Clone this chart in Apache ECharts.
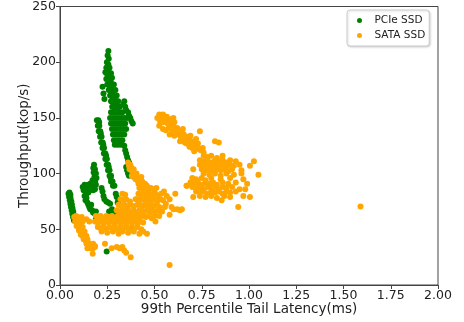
<!DOCTYPE html>
<html>
<head>
<meta charset="utf-8">
<script src="https://cdn.jsdelivr.net/npm/echarts@6/dist/echarts.min.js"></script>
<style>
  html, body { margin: 0; padding: 0; background: #fff; }
  #main { width: 464px; height: 322px; }
</style>
</head>
<body>
<div id="main"></div>
<script>
// latency (ms), throughput (kop/s)
var seriesNames = ['PCIe SSD', 'SATA SSD']
var seriesColors = ['#008000', '#ffa500']
var xTicks = [0, 0.25, 0.5, 0.75, 1.0, 1.25, 1.5, 1.75, 2.0]
var yTicks = [0, 50, 100, 150, 200, 250]

var pcie = [
  // left strand
  [0.045,82],[0.05,83],[0.055,81],[0.048,79],[0.056,78],[0.052,76],[0.06,75],[0.055,73],[0.063,72],[0.058,70],
  [0.066,69],[0.062,67],[0.07,66],[0.065,64],[0.073,63],[0.069,61],[0.078,60],[0.074,58],[0.085,57],
  // second strand
  [0.18,108],[0.176,105],[0.185,104],[0.178,101],[0.19,100],[0.182,97],[0.193,96],[0.186,93],[0.172,94],
  [0.12,88],[0.13,90],[0.14,89],[0.15,90],[0.16,91],[0.17,90],[0.18,89],[0.19,90],[0.125,85],[0.135,84],
  [0.145,86],[0.155,87],[0.165,86],[0.175,85],[0.185,86],[0.14,82],[0.15,83],
  [0.13,80],[0.14,78],[0.135,76],[0.145,74],[0.15,72],[0.155,70],[0.16,68],[0.17,67],[0.175,65],[0.185,64],[0.19,66],[0.165,72],
  // diagonal strand
  [0.195,148],[0.203,148],[0.2,143],[0.208,143],[0.205,138],[0.213,138],[0.212,133],[0.22,133],[0.218,128],[0.226,128],
  [0.225,123],[0.233,123],[0.232,118],[0.24,118],[0.24,113],[0.248,113],[0.247,108],[0.255,108],[0.254,103],[0.262,103],
  [0.262,98],[0.27,98],[0.27,93],[0.278,93],[0.28,89],[0.288,89],
  [0.207,146],[0.216,136],[0.229,126],[0.244,116],[0.258,106],[0.268,96],
  [0.22,87],[0.225,84],[0.23,80],[0.235,77],[0.245,75],[0.255,74],[0.265,73],
  [0.26,66],[0.27,64],[0.28,63],[0.29,65],[0.3,62],[0.275,68],[0.19,60],[0.2,58],[0.247,30],
  [0.295,82],[0.3,79],[0.31,76],[0.305,74],
  // tall strand
  [0.256,210],[0.252,206],[0.258,203],[0.248,200],[0.256,198],[0.245,195],[0.255,193],[0.262,195],[0.24,191],[0.25,189],
  [0.26,188],[0.27,190],[0.245,185],[0.258,184],[0.268,183],[0.275,186],[0.25,180],[0.262,179],[0.274,178],[0.285,180],
  [0.258,175],[0.27,174],[0.282,173],[0.293,175],[0.265,170],[0.277,169],[0.29,168],[0.3,170],[0.27,165],[0.283,164],
  [0.296,163],[0.308,165],[0.276,160],[0.29,159],[0.303,158],[0.316,160],[0.225,178],[0.23,172],[0.235,167],
  [0.27,155],[0.285,155],[0.3,155],[0.315,155],[0.33,155],
  [0.265,150],[0.28,150],[0.295,150],[0.31,150],[0.325,150],[0.34,150],
  [0.27,145],[0.285,145],[0.3,145],[0.315,145],[0.33,145],[0.345,145],
  [0.275,140],[0.29,140],[0.305,140],[0.32,140],[0.335,140],[0.35,140],
  [0.28,135],[0.295,135],[0.31,135],[0.325,135],[0.34,135],
  [0.285,130],[0.3,130],[0.315,130],[0.33,130],
  [0.29,126],[0.305,126],[0.32,126],
  [0.335,162],[0.345,160],[0.35,157],[0.36,155],[0.365,152],[0.372,150],[0.378,147],[0.385,145],[0.34,165],[0.355,150],
  [0.34,125],[0.345,121],[0.35,118],[0.355,115],[0.36,112],[0.365,110],
  [0.35,106],[0.355,103],[0.36,100],[0.365,98]
]

var sata = [
  // left curve
  [0.075,61],[0.085,62],[0.095,61],[0.105,60],[0.115,61],[0.08,57],[0.09,58],[0.1,57],[0.11,56],[0.12,57],
  [0.088,53],[0.098,53],[0.108,52],[0.12,52],[0.1,49],[0.11,48],[0.12,49],[0.13,48],[0.11,45],[0.12,44],
  [0.13,45],[0.14,44],[0.125,41],[0.135,40],[0.145,41],[0.15,38],[0.14,37],[0.155,35],[0.165,36],[0.175,37],
  [0.16,33],[0.175,33],[0.185,35],[0.145,33],[0.14,59],[0.155,57],
  // low band
  [0.19,62],[0.2,61],[0.215,62],[0.23,60],[0.245,62],[0.26,61],[0.275,62],[0.29,60],[0.305,62],[0.32,61],
  [0.335,62],[0.35,60],[0.365,62],[0.38,61],[0.395,62],[0.41,60],[0.425,62],
  [0.185,57],[0.2,56],[0.215,57],[0.23,55],[0.245,57],[0.26,56],[0.275,57],[0.29,55],[0.305,57],[0.32,56],
  [0.335,57],[0.35,55],[0.365,57],[0.38,56],[0.395,57],[0.41,55],[0.425,57],[0.44,56],
  [0.2,52],[0.215,51],[0.23,52],[0.245,50],[0.26,52],[0.275,51],[0.29,52],[0.305,50],[0.32,52],[0.335,51],
  [0.35,52],[0.365,50],[0.38,52],[0.395,51],[0.41,52],[0.43,50],
  [0.22,48],[0.25,47],[0.28,48],[0.31,46],[0.33,48],[0.36,47],[0.39,48],[0.42,46],[0.44,48],
  [0.3,67],[0.315,66],[0.33,67],[0.345,65],[0.36,67],[0.375,66],[0.39,67],[0.405,65],[0.42,67],
  [0.31,72],[0.325,71],[0.34,72],[0.355,70],[0.37,72],[0.39,71],[0.41,72],
  [0.32,77],[0.335,76],[0.35,77],[0.37,75],[0.4,77],[0.33,82],[0.345,81],
  // middle diagonal and blob
  [0.36,110],[0.365,107],[0.372,108],[0.368,104],[0.378,103],[0.385,101],[0.38,98],[0.39,97],[0.398,99],[0.4,95],
  [0.41,94],[0.42,96],[0.415,91],[0.425,92],[0.435,93],[0.44,90],[0.45,91],[0.46,89],
  [0.375,106],[0.39,104],[0.405,100],[0.43,97],
  [0.42,87],[0.435,86],[0.45,87],[0.465,85],[0.48,87],[0.495,86],[0.51,87],
  [0.415,82],[0.43,81],[0.445,82],[0.46,80],[0.475,82],[0.49,81],[0.505,82],[0.52,80],[0.535,82],
  [0.41,77],[0.425,76],[0.44,77],[0.455,75],[0.47,77],[0.485,76],[0.5,77],[0.515,75],[0.53,77],[0.545,76],
  [0.42,72],[0.435,71],[0.45,72],[0.465,70],[0.48,72],[0.495,71],[0.51,72],[0.525,70],
  [0.43,67],[0.445,66],[0.46,67],[0.475,65],[0.49,67],[0.505,66],[0.52,67],
  [0.44,62],[0.455,61],[0.47,62],[0.485,60],[0.5,62],
  [0.55,84],[0.565,80],[0.58,77],[0.56,73],[0.59,70],[0.61,82],[0.62,68],[0.635,67],[0.645,68],[0.67,89],
  [0.54,66],[0.58,63],[0.6,68],[0.46,46],[0.505,57],[0.525,62],[0.555,70],
  [0.173,28],[0.185,34],[0.238,37],[0.273,33],[0.3,34],[0.315,33],[0.33,34],[0.34,31],[0.35,29],[0.374,25],
  [0.58,18],
  // upper strand
  [0.515,150],[0.525,153],[0.535,151],[0.545,153],[0.555,150],[0.53,147],[0.545,146],[0.56,148],[0.57,145],[0.58,148],
  [0.59,144],[0.575,141],[0.6,142],[0.61,139],[0.62,141],[0.63,138],[0.615,135],[0.645,137],[0.655,135],[0.64,132],
  [0.665,131],[0.675,133],[0.685,130],[0.67,127],[0.695,127],[0.705,129],[0.715,125],[0.7,123],[0.725,124],[0.735,122],
  [0.745,121],[0.755,123],[0.545,140],[0.58,135],[0.605,134],[0.635,129],[0.74,138],[0.82,129],[0.84,128],[0.6,150],
  [0.525,143],[0.56,139],
  [0.54,149],[0.565,151],[0.59,149],[0.605,146],[0.595,138],[0.625,136],[0.65,140],[0.66,128],[0.69,134],[0.72,131],
  [0.685,124],[0.73,127],[0.76,119],[0.71,120],
  // right blobs
  [0.76,116],[0.78,115],[0.8,116],[0.83,114],[0.86,116],
  [0.74,112],[0.76,111],[0.78,112],[0.8,110],[0.82,112],[0.84,111],[0.86,112],[0.88,110],[0.9,112],[0.93,111],
  [0.74,108],[0.76,107],[0.78,108],[0.8,106],[0.82,108],[0.84,107],[0.86,108],[0.88,106],[0.9,108],[0.92,107],[0.95,108],
  [0.75,104],[0.77,103],[0.79,104],[0.81,102],[0.83,104],[0.85,103],[0.87,104],[0.89,102],[0.91,104],
  [0.76,100],[0.79,99],[0.82,100],[0.85,98],[0.88,100],[0.92,99],[0.96,100],
  [0.7,96],[0.72,95],[0.75,96],[0.77,94],[0.8,96],[0.85,95],[0.9,96],
  [0.69,92],[0.71,91],[0.73,92],[0.75,90],[0.77,92],[0.79,91],[0.81,92],[0.83,90],[0.86,92],[0.89,91],[0.93,92],
  [0.7,88],[0.72,87],[0.74,88],[0.76,86],[0.78,88],[0.8,87],[0.82,88],[0.84,86],[0.86,88],[0.88,87],[0.91,88],[0.95,86],
  [0.72,84],[0.74,83],[0.76,84],[0.78,82],[0.8,84],[0.82,83],[0.84,84],[0.86,82],[0.88,84],[0.9,83],[0.93,84],
  [0.74,80],[0.77,79],[0.8,80],[0.83,78],[0.87,80],[0.9,79],[0.97,80],
  [1.005,107],[1.026,111],[1.05,99],[1.005,79],[0.943,70],[0.855,76],[0.705,79],[0.705,104],[0.67,89],[0.97,95],
  [0.98,86],[0.96,103],[0.99,91],
  [1.59,70.5]
]

var font = 'DejaVu Sans'
var chart = echarts.init(document.getElementById('main'))

var option = {
  animation: false,
  textStyle: { fontFamily: font },
  grid: {
    left: 60, right: 26, top: 4, bottom: 37,
    show: true, borderColor: '#444', borderWidth: 1, backgroundColor: '#fff'
  },
  legend: {
    orient: 'vertical',
    left: 347, top: 10,
    icon: 'circle',
    itemWidth: 20, itemHeight: 5,
    itemGap: 4,
    padding: [5, 4, 5, 10],
    borderColor: '#ccc', borderWidth: 1, borderRadius: 3,
    backgroundColor: '#fff',
    shadowColor: 'rgba(0,0,0,0.15)', shadowBlur: 2, shadowOffsetX: 1, shadowOffsetY: 1,
    textStyle: { fontFamily: font, fontSize: 10.5, color: '#222' },
    data: seriesNames
  },
  xAxis: {
    type: 'value',
    min: xTicks[0], max: xTicks[xTicks.length - 1], interval: 0.25,
    name: '99th Percentile Tail Latency(ms)',
    nameLocation: 'middle', nameGap: 17, nameMoveOverlap: false,
    nameTextStyle: { fontFamily: font, fontSize: 13.5, color: '#222' },
    axisLine: { show: true, lineStyle: { color: '#444' } },
    axisTick: { show: true, length: 4, lineStyle: { color: '#444' } },
    axisLabel: {
      fontFamily: font, fontSize: 12.5, color: '#222', margin: 4,
      formatter: function (v) { return v.toFixed(2) }
    },
    splitLine: { show: false }
  },
  yAxis: {
    type: 'value',
    min: yTicks[0], max: yTicks[yTicks.length - 1], interval: 50,
    name: 'Throughput(kop/s)',
    nameLocation: 'middle', nameGap: 29, nameMoveOverlap: false,
    nameTextStyle: { fontFamily: font, fontSize: 13.5, color: '#222' },
    axisLine: { show: true, lineStyle: { color: '#444' } },
    axisTick: { show: true, length: 4, lineStyle: { color: '#444' } },
    axisLabel: { fontFamily: font, fontSize: 12.5, color: '#222', margin: 4 },
    splitLine: { show: false }
  },
  series: [
    {
      name: seriesNames[0], type: 'scatter', data: pcie,
      symbolSize: 6, itemStyle: { color: seriesColors[0], opacity: 1 }
    },
    {
      name: seriesNames[1], type: 'scatter', data: sata,
      symbolSize: 6, itemStyle: { color: seriesColors[1], opacity: 1 }
    }
  ]
}

chart.setOption(option)
</script>
</body>
</html>
